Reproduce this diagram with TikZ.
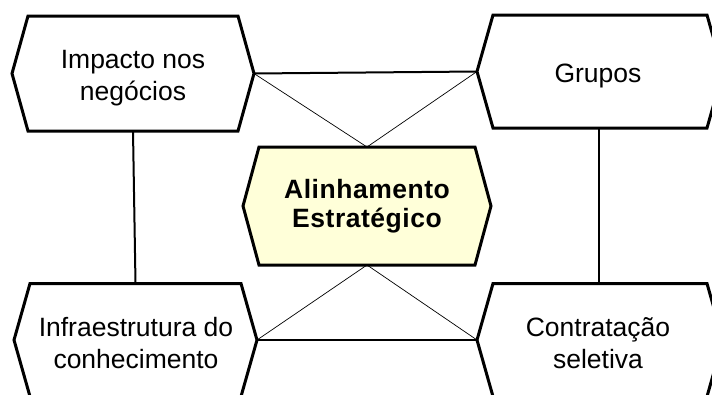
\documentclass[tikz,border=0pt]{standalone}
\usepackage{fontspec}
\setmainfont{Liberation Sans}
\definecolor{paleyellow}{RGB}{255,255,217}
\tikzset{
  boxline/.style={draw=black, line width=3pt, line join=miter, fill=white},
  thickconn/.style={draw=black, line width=2pt},
  thinconn/.style={draw=black, line width=0.7pt},
  txt/.style={align=center, inner sep=0pt, font=\fontsize{26.5}{32}\selectfont},
  boldtxt/.style={align=center, inner sep=0pt, font=\fontsize{26.5}{29}\selectfont\bfseries\addfontfeature{LetterSpace=2}},
  pics/hexa/.style n args={3}{code={
    \path[boxline,#3] (-#1,0) coordinate (-W) -- (-#1+16,-#2) -- (#1-16,-#2) -- (#1,0) coordinate (-E)
      -- (#1-16,#2) -- (-#1+16,#2) -- cycle;
    \coordinate (-N) at (0,-#2);
    \coordinate (-S) at (0,#2);
  }}
}
\begin{document}
\begin{tikzpicture}[x=1pt,y=-1pt]
\useasboundingbox (0,0) rectangle (712,394);
\fill[white] (0,0) rectangle (712,394);
\begin{scope}
\clip (0,0) rectangle (712,394);
% boxes
\pic (tl) at (133,73.5) {hexa={121}{57.5}{}};
\pic (tr) at (600,71.5) {hexa={123}{56.5}{}};
\pic (c) at (367,206) {hexa={124}{59}{fill=paleyellow}};
\pic (bl) at (135.5,340) {hexa={121.5}{56.5}{}};
\pic (br) at (600,340) {hexa={123}{56.5}{}};
% connectors
\draw[thickconn] (tl-E) -- (tr-W);
\draw[thickconn] (bl-E) -- (br-W);
\draw[thickconn] (tl-S) -- (bl-N);
\draw[thickconn] ([xshift=-1pt]tr-S) -- ([xshift=-1pt]br-N);
\draw[thinconn] (c-N) -- (tl-E);
\draw[thinconn] (c-N) -- (tr-W);
\draw[thinconn] (c-S) -- (bl-E);
\draw[thinconn] (c-S) -- (br-W);
% texts
\node[txt] (tltext) at (133,78.3) {Impacto nos\\negócios};
\node[txt, anchor=base] (trtext) at (598,82) {Grupos};
\node[boldtxt] (ctext) at (367,206.5) {Alinhamento\\Estratégico};
\node[txt] (bltext) at (136,343.5) {Infraestrutura do\\conhecimento};
\node[txt] (brtext) at (598,343.5) {Contratação\\seletiva};
\end{scope}
\end{tikzpicture}
\end{document}
